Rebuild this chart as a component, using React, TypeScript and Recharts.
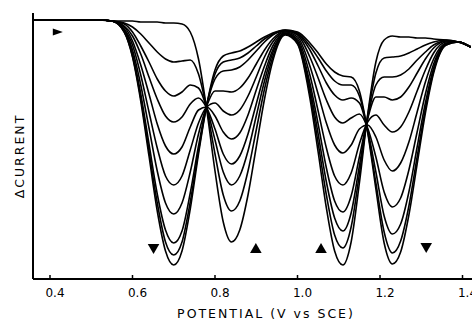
import { ComposedChart, Label, Line, Scatter, XAxis, YAxis } from "recharts";

// potential (V vs SCE) sampled along the scans
const potential = [
  0.36, 0.46, 0.52, 0.55, 0.58, 0.6, 0.62, 0.64, 0.66, 0.68, 0.7, 0.72, 0.74, 0.76, 0.78,
  0.8, 0.82, 0.84, 0.86, 0.88, 0.9, 0.92, 0.94, 0.97, 1.0, 1.03, 1.05, 1.07, 1.09, 1.11,
  1.13, 1.15, 1.17, 1.19, 1.21, 1.23, 1.25, 1.27, 1.29, 1.31, 1.33, 1.36, 1.39, 1.42,
];

// Δcurrent below the starting baseline (arbitrary units), one array per scan
const scan0 = [0, 0, 0, 1, 1, 1, 2, 2, 2, 3, 3, 4, 12, 39, 90, 151, 202, 222, 210, 175, 127, 79, 41, 15, 24, 78, 132, 188, 231, 245, 222, 163, 95, 42, 20, 16, 17, 17, 18, 18, 19, 20, 22, 27];
const scan1 = [0, 0, 0, 1, 3, 7, 14, 23, 32, 39, 42, 41, 40, 54, 89, 134, 175, 191, 181, 151, 110, 69, 37, 14, 23, 73, 123, 175, 215, 228, 207, 154, 96, 53, 38, 37, 36, 33, 29, 25, 22, 20, 22, 27];
const scan2 = [0, 0, 0, 1, 4, 12, 26, 42, 59, 71, 76, 72, 65, 68, 88, 120, 152, 165, 156, 131, 96, 61, 33, 14, 22, 68, 114, 162, 198, 211, 193, 146, 98, 65, 57, 57, 55, 49, 40, 32, 25, 21, 22, 27];
const scan3 = [0, 0, 0, 1, 6, 16, 34, 57, 79, 96, 102, 97, 84, 78, 88, 109, 134, 144, 136, 114, 84, 54, 30, 13, 21, 63, 104, 148, 181, 192, 176, 137, 99, 77, 77, 80, 77, 67, 53, 39, 28, 21, 22, 27];
const scan4 = [0, 0, 0, 1, 7, 21, 45, 74, 104, 126, 134, 127, 107, 90, 87, 96, 112, 119, 113, 95, 70, 46, 26, 13, 19, 55, 91, 128, 156, 165, 153, 124, 102, 95, 105, 112, 107, 92, 71, 50, 33, 22, 22, 27];
const scan5 = [0, 0, 0, 1, 9, 25, 55, 92, 128, 156, 165, 156, 130, 103, 87, 83, 91, 95, 90, 76, 57, 37, 22, 12, 17, 46, 74, 103, 125, 133, 125, 109, 105, 117, 140, 151, 143, 122, 92, 62, 39, 23, 22, 27];
const scan6 = [0, 0, 0, 1, 10, 30, 65, 108, 151, 183, 194, 183, 152, 114, 86, 71, 71, 72, 68, 58, 44, 30, 19, 11, 15, 37, 58, 80, 97, 103, 98, 94, 108, 137, 172, 187, 178, 150, 112, 74, 44, 24, 22, 27];
const scan7 = [0, 0, 0, 1, 11, 34, 74, 124, 174, 210, 223, 211, 173, 126, 85, 59, 51, 50, 47, 40, 31, 22, 15, 11, 14, 30, 46, 63, 75, 80, 78, 83, 110, 152, 196, 214, 204, 172, 127, 83, 48, 24, 22, 27];
const scan8 = [0, 0, 0, 1, 12, 36, 78, 131, 183, 222, 235, 222, 182, 131, 85, 54, 42, 40, 38, 33, 26, 19, 14, 10, 13, 26, 38, 51, 61, 65, 65, 76, 111, 163, 212, 233, 221, 186, 137, 89, 51, 25, 22, 27];
const scan9 = [0, 0, 0, 1, 12, 37, 81, 136, 191, 231, 245, 231, 189, 134, 85, 50, 36, 33, 31, 27, 22, 17, 13, 10, 12, 23, 33, 44, 52, 56, 57, 71, 112, 169, 223, 244, 232, 195, 144, 93, 53, 25, 22, 27];

// arrow markers drawn on the plot
const markerPotential = [0.419, 0.651, 0.899, 1.057, 1.312];
const markerLevel = [12, 229, 228, 228, 228];
const markerDir = ["right", "down", "up", "up", "down"];

const xTicks = [0.4, 0.6, 0.8, 1.0, 1.2, 1.4];

const scans = [scan0, scan1, scan2, scan3, scan4, scan5, scan6, scan7, scan8, scan9];

const rows = potential.map((v, i) => {
  const row: Record<string, number> = { v };
  scans.forEach((s, k) => {
    row[`s${k}`] = s[i];
  });
  return row;
});

const markers = markerPotential.map((v, i) => ({ v, y: markerLevel[i], dir: markerDir[i] }));

const FONT = "'DejaVu Sans', sans-serif";

function Arrow(props: any) {
  const { cx, cy, payload } = props;
  const w = 5.8;
  const h = 5;
  let pts = "";
  if (payload.dir === "down") pts = `${cx - w},${cy - h} ${cx + w},${cy - h} ${cx},${cy + h}`;
  else if (payload.dir === "up") pts = `${cx - w},${cy + h} ${cx + w},${cy + h} ${cx},${cy - h}`;
  else pts = `${cx - 5},${cy - 3.5} ${cx + 5},${cy} ${cx - 5},${cy + 3.5}`;
  return <polygon points={pts} fill="#000" />;
}

export default function App() {
  return (
    <div style={{ position: "absolute", left: 0, top: 0, background: "#fff" }}>
      <ComposedChart
        width={472}
        height={322}
        data={rows}
        margin={{ top: 13, right: 0, left: 0, bottom: 0 }}
      >
        <XAxis
          type="number"
          dataKey="v"
          domain={[0.3588, 1.423]}
          allowDataOverflow
          ticks={xTicks}
          interval={0}
          tickFormatter={(t: number) => t.toFixed(1)}
          height={43}
          axisLine={{ stroke: "#000", strokeWidth: 2 }}
          tickLine={{ stroke: "#000", strokeWidth: 1.5 }}
          tickSize={-4}
          tickMargin={13}
          tick={{ fill: "#000", fontSize: 12, fontFamily: FONT, dx: 5 }}
        >
          <Label
            content={() => (
              <text
                x={266}
                y={318}
                textAnchor="middle"
                fontSize={12.5}
                fontFamily={FONT}
                fill="#000"
                style={{ letterSpacing: 2 }}
              >
                POTENTIAL (V vs SCE)
              </text>
            )}
          />
        </XAxis>
        <YAxis
          type="number"
          width={33}
          reversed
          domain={[-7, 259]}
          allowDataOverflow
          tick={false}
          tickLine={false}
          axisLine={{ stroke: "#000", strokeWidth: 2 }}
        >
          <Label
            content={() => (
              <text
                x={24}
                y={156}
                textAnchor="middle"
                fontSize={12.5}
                fontFamily={FONT}
                fill="#000"
                transform="rotate(-90 24 156)"
                style={{ letterSpacing: 2 }}
              >
                ΔCURRENT
              </text>
            )}
          />
        </YAxis>
        {scans.map((_, k) => (
          <Line
            key={k}
            dataKey={`s${k}`}
            type="monotone"
            stroke="#000"
            strokeWidth={1.6}
            dot={false}
            activeDot={false}
            isAnimationActive={false}
          />
        ))}
        <Scatter data={markers} dataKey="y" shape={Arrow} isAnimationActive={false} />
      </ComposedChart>
    </div>
  );
}
